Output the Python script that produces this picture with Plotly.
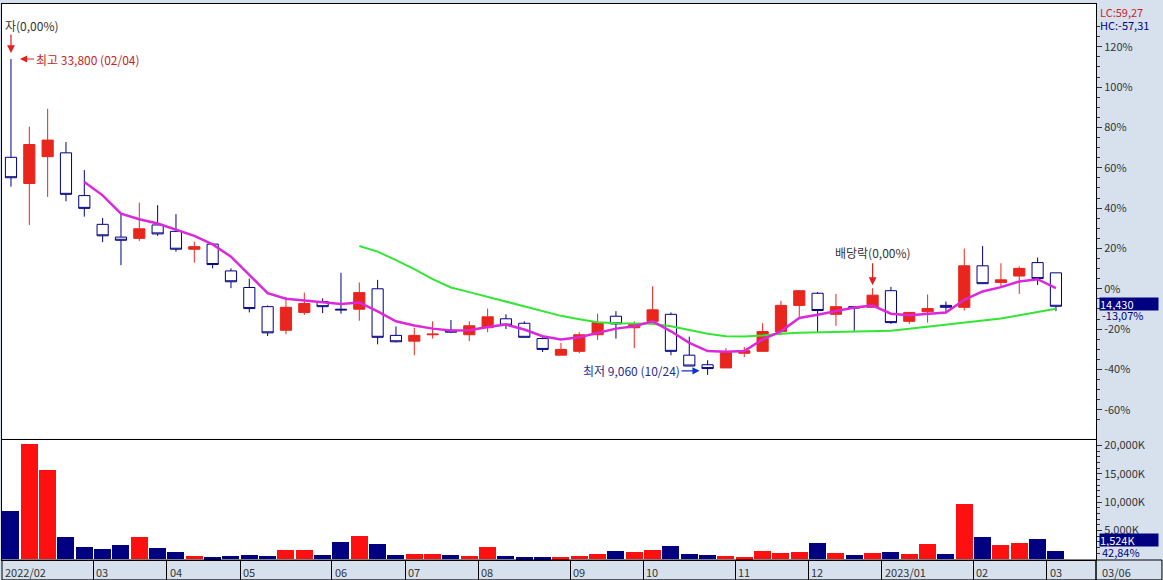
import pandas as pd
import plotly.graph_objects as go
from plotly.subplots import make_subplots

# ---------------- data (weekly candles, KRW) ----------------
weeks = pd.date_range("2022-01-31", periods=58, freq="7D")

open_ = [26100, 24050, 26150, 26450, 23100, 20850, 19850, 19750, 20800, 20300,
         18900, 19300, 17200, 15900, 14400, 12550, 13950, 14800, 14200, 14200,
         15800, 12150, 11700, 12200, 12550, 12200, 12750, 13450, 13100, 11900,
         10600, 10900, 12200, 13650, 12750, 13250, 13800, 10600, 9850, 9600,
         10750, 10900, 12450, 14500, 15450, 13800, 14400, 14350, 15650, 13250,
         14000, 14500, 14350, 17600, 16300, 16800, 17850, 17050]
high = [33800, 28500, 29900, 27300, 25100, 21350, 21700, 22550, 22350, 21650,
        19500, 19350, 17400, 16600, 14500, 15150, 15500, 15050, 17050, 16300,
        16500, 12850, 12750, 13250, 13350, 13250, 14250, 13800, 13250, 12050,
        11550, 12400, 13850, 14050, 13250, 16000, 13950, 12050, 10200, 11150,
        11250, 13100, 14850, 15700, 15550, 15400, 14400, 15850, 15950, 13950,
        15350, 14800, 18950, 19150, 17800, 17550, 18250, 17050]
low = [23800, 20800, 23000, 22650, 21450, 19450, 17650, 19550, 19950, 18700,
       17850, 17400, 15850, 13950, 12100, 12250, 13750, 13900, 13850, 13300,
       11450, 11600, 10600, 11900, 12350, 11700, 12400, 12650, 12000, 10850,
       10600, 10750, 11800, 11900, 11150, 13000, 10600, 9750, 9060, 9600,
       10450, 10900, 12200, 13600, 12350, 12900, 12500, 14350, 13050, 13050,
       13150, 13950, 14100, 16200, 15900, 15400, 16100, 14050]
close = [24500, 27100, 27450, 23200, 22100, 19950, 19600, 20500, 20100, 18900,
         19100, 17700, 16350, 14250, 12350, 14350, 14650, 14400, 14150, 15500,
         12000, 11650, 12150, 12250, 12400, 12900, 13600, 12950, 12000, 11050,
         11050, 12200, 13150, 13050, 13000, 14150, 10900, 9750, 9550, 10800,
         10950, 12450, 14500, 15650, 14100, 14400, 14300, 15300, 13150, 13950,
         14250, 14350, 17600, 16200, 16500, 17400, 16600, 14430]
# volume in thousands of shares
volume = [8600, 20400, 15800, 3860, 2100, 1750, 2460, 3860, 1930, 1230,
          530, 350, 530, 700, 530, 1580, 1580, 700, 2980, 4030,
          2630, 700, 880, 880, 700, 530, 2100, 530, 350, 350,
          350, 530, 880, 1400, 1230, 1580, 2280, 880, 700, 530,
          350, 1400, 1050, 1230, 2810, 1050, 700, 1050, 1230, 880,
          2630, 880, 9820, 3860, 2460, 2810, 3560, 1524]
# moving-average lines as drawn (5-week magenta, 20-week green)
ma5 = [None] * 4 + [24160, 23120, 21690, 21250, 20910, 20400, 19950, 19280, 18320, 16890,
                    15460, 15020, 14870, 14760, 14600, 14730, 14030, 13250, 12920, 12680,
                    12530, 12550, 12810, 13000, 12610, 12080, 11830, 12010, 12340, 12680,
                    12860, 13250, 12470, 11560, 10920, 10860, 10920, 11830, 12470, 13510,
                    13770, 14030, 14340, 14480, 13850, 13720, 13820, 13950, 14940, 15590,
                    15930, 16370, 16550, 15850]
ma20 = [None] * 19 + [19150, 18710, 18040, 17340, 16560, 15900, 15540, 15160, 14830, 14460,
                      14060, 13680, 13410, 13170, 13100, 13100, 13060, 12860, 12590, 12280,
                      12080, 12060, 12140, 12280, 12360, 12380, 12400, 12430, 12470, 12510,
                      12670, 12820, 12960, 13140, 13280, 13470, 13720, 13970, 14240]

pct_ticks = [-60, -40, -20, 0, 20, 40, 60, 80, 100, 120]
base_price = 15800
month_labels = ["2022/02", "03", "04", "05", "06", "07", "08", "09", "10", "11", "12",
                "2023/01", "02", "03"]
month_first_week = [0, 5, 9, 13, 18, 22, 26, 31, 35, 40, 44, 48, 53, 57]
vol_ticks = [5000, 10000, 15000, 20000]

# ---------------- styling ----------------
RED = "#E8261E"
VRED = "#FF1010"
NAVY = "#000080"
BAND = "#D7E1EE"
TXT = "#333333"
FONT = "Noto Sans CJK KR, DejaVu Sans, sans-serif"

fig = make_subplots(rows=2, cols=1, shared_xaxes=True, vertical_spacing=0)

fig.add_trace(go.Candlestick(
    x=weeks, open=open_, high=high, low=low, close=close,
    increasing=dict(line=dict(color=RED, width=1), fillcolor=RED),
    decreasing=dict(line=dict(color=NAVY, width=1), fillcolor="white"),
    whiskerwidth=0, hoverinfo="skip"), row=1, col=1)

fig.add_trace(go.Scatter(x=weeks, y=ma20, mode="lines",
                         line=dict(color="#33E633", width=2), hoverinfo="skip"), row=1, col=1)
fig.add_trace(go.Scatter(x=weeks, y=ma5, mode="lines",
                         line=dict(color="#DC28DC", width=2.5), hoverinfo="skip"), row=1, col=1)

vcolors = [VRED if c > o else NAVY for o, c in zip(open_, close)]
fig.add_trace(go.Bar(x=weeks, y=volume, marker=dict(color=vcolors, line=dict(width=0)),
                     width=6.5 * 86400000, hoverinfo="skip"), row=2, col=1)

day = pd.Timedelta(days=1)
x_range = [weeks[0] - 3.43 * day, weeks[0] + 414.3 * day]
dividers = [weeks[i] - 3.5 * day for i in month_first_week]

price_tickvals = [base_price * (1 + p / 100) for p in pct_ticks]
price_ticktext = [f"{p}%" for p in pct_ticks]
minor_vals = [base_price * (1 + p / 100) for p in range(-65, 131, 5) if p % 20 != 0]

fig.update_layout(
    width=1163, height=580,
    margin=dict(l=1, r=67, t=1, b=20),
    paper_bgcolor=BAND, plot_bgcolor="white",
    showlegend=False, boxgap=0.13, bargap=0,
    font=dict(family=FONT, size=11, color=TXT),
)

fig.update_xaxes(range=x_range, showgrid=False, zeroline=False)
fig.update_layout(
    xaxis=dict(rangeslider=dict(visible=False), showticklabels=False, ticks="",
               showline=True, mirror=True, linecolor="black", linewidth=1),
    xaxis2=dict(rangeslider=dict(visible=False), showticklabels=False,
                tickmode="array", tickvals=dividers, ticks="outside", ticklen=19,
                tickcolor="black", tickwidth=1,
                showline=True, mirror=False, linecolor="black", linewidth=1),
    yaxis=dict(domain=[0.21825, 1], range=[4060, 38110], side="right",
               tickmode="array", tickvals=price_tickvals, ticktext=price_ticktext,
               ticks="outside", ticklen=5, tickcolor="#333", showgrid=False, zeroline=False,
               showline=True, mirror=True, linecolor="black", linewidth=1,
               tickfont=dict(size=11, color=TXT),
               minor=dict(tickmode="array", tickvals=minor_vals, ticks="outside",
                          ticklen=3, tickcolor="#333")),
    yaxis2=dict(domain=[0, 0.21646], range=[-180, 21050], side="right",
                tickmode="array", tickvals=vol_ticks,
                ticktext=[f"{v:,}K" for v in vol_ticks],
                ticks="outside", ticklen=5, tickcolor="#333", showgrid=False, zeroline=False,
                showline=True, mirror=True, linecolor="black", linewidth=1,
                tickfont=dict(size=11, color=TXT),
                minor=dict(tickmode="array", tickvals=list(range(1000, 21000, 1000)),
                           ticks="outside", ticklen=3, tickcolor="#333")),
)

ann = []
# month labels in bottom band
for d, lab in zip(dividers, month_labels):
    ann.append(dict(x=max(d, x_range[0]), xref="x2", y=0, yref="paper", yanchor="top",
                    xanchor="left", xshift=1, yshift=-2, text=lab, showarrow=False,
                    font=dict(size=11, color=TXT)))
ann.append(dict(x=1.004, xref="paper", y=0, yref="paper", xanchor="left", yanchor="top",
                yshift=-2, text="03/06", showarrow=False, font=dict(size=11, color=TXT)))
# LC / HC
ann.append(dict(x=1.002, xref="paper", y=1, yref="paper", xanchor="left", yanchor="top",
                yshift=2, text="LC:59,27", showarrow=False, font=dict(size=11, color="#D0202A")))
ann.append(dict(x=1.002, xref="paper", y=1, yref="paper", xanchor="left", yanchor="top",
                yshift=-11, text="HC:-57,31", showarrow=False, font=dict(size=11, color=NAVY)))
# current price box
ann.append(dict(x=1.0027, xref="paper", y=close[-1], yref="y", xanchor="left", yanchor="middle",
                yshift=2, text="14,430", showarrow=False, bgcolor=NAVY, width=58, height=12,
                align="left", borderpad=0, font=dict(size=11, color="white")))
ann.append(dict(x=1.004, xref="paper", y=close[-1], yref="y", xanchor="left", yanchor="middle",
                yshift=-9, text="-13,07%", showarrow=False, font=dict(size=11, color=NAVY)))
# current volume box
ann.append(dict(x=1.0027, xref="paper", y=volume[-1], yref="y2", xanchor="left", yanchor="middle",
                yshift=10, text="1,524K", showarrow=False, bgcolor=NAVY, width=58, height=12,
                align="left", borderpad=0, font=dict(size=11, color="white")))
ann.append(dict(x=1.004, xref="paper", y=volume[-1], yref="y2", xanchor="left", yanchor="middle",
                yshift=-2, text="42,84%", showarrow=False, font=dict(size=11, color=NAVY)))
# event marker at first week
ann.append(dict(x=weeks[0], xref="x", y=high[0], yref="y", yshift=6, ax=0, ay=-20,
                text="", showarrow=True, arrowhead=2, arrowsize=1.3, arrowwidth=1.2,
                arrowcolor="#E02020"))
ann.append(dict(x=0.001, xref="paper", y=0.9607, yref="paper", xanchor="left", yanchor="middle",
                text="자(0,00%)", showarrow=False, font=dict(size=12, color=TXT)))
# highest
ann.append(dict(x=weeks[0], xref="x", y=high[0], yref="y", xshift=9, ax=14, ay=0,
                text="최고 33,800 (02/04)", xanchor="left", showarrow=True, arrowhead=2,
                arrowsize=1.2, arrowwidth=1.2, arrowcolor="#E02020",
                font=dict(size=12, color="#C8241C")))
# lowest
ann.append(dict(x=weeks[38], xref="x", y=low[38], yref="y", xshift=-8, yshift=4, ax=-18, ay=0,
                text="최저 9,060 (10/24)", xanchor="right", showarrow=True, arrowhead=2,
                arrowsize=1.2, arrowwidth=1.2, arrowcolor="#1030D0",
                font=dict(size=12, color="#1F2E8F")))
# ex-dividend
ann.append(dict(x=weeks[47], xref="x", y=high[47], yref="y", yshift=3, ax=0, ay=-22,
                text="배당락(0,00%)", yanchor="bottom", showarrow=True, arrowhead=2,
                arrowsize=1.3, arrowwidth=1.2, arrowcolor="#E02020",
                font=dict(size=12, color=TXT)))
fig.update_layout(annotations=ann)

# band borders
fig.add_shape(type="rect", xref="paper", yref="paper", x0=0, x1=1, y0=-20 / 559, y1=0,
              line=dict(color="black", width=1), fillcolor="rgba(0,0,0,0)")
fig.add_shape(type="rect", xref="paper", yref="paper", x0=1, x1=1 + 66 / 1095,
              y0=-20 / 559, y1=0, line=dict(color="black", width=1), fillcolor="rgba(0,0,0,0)")

fig.write_html("out.html", config={"displayModeBar": False},
               post_script="document.body.style.margin='0';")
